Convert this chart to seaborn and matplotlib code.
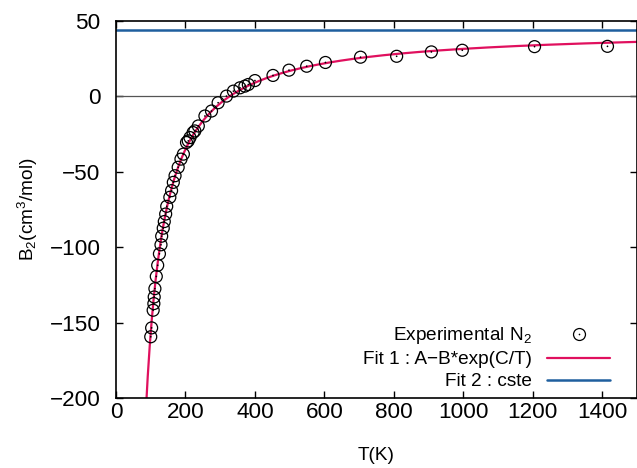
import numpy as np
import pandas as pd
import matplotlib
matplotlib.use("Agg")
import matplotlib.pyplot as plt
import seaborn as sns
from matplotlib.lines import Line2D
from matplotlib.legend_handler import HandlerTuple

# ---- data ----
T_exp = [100, 102.6, 107, 109, 110, 112, 116, 120, 125, 129.5, 131.5, 136, 139,
         143, 146, 155, 160, 165, 170, 179, 187, 194, 203, 208, 213, 222, 227,
         237, 256, 275, 294, 318, 338, 357, 371, 381, 400, 452, 498, 549, 603,
         704, 808, 908, 997, 1205, 1415]
B_exp = [-159.4, -153.5, -141.8, -137.4, -133, -127.5, -119.4, -112, -104.4,
         -98.4, -92.7, -87.4, -83, -78, -72.9, -66.9, -62.5, -57, -52.6, -47,
         -41.6, -38.3, -30.6, -29.5, -27.3, -24, -22.9, -19.6, -13, -9.7, -4.2,
         0.2, 3.5, 5.7, 6.8, 7.9, 10.5, 13.9, 17.4, 20.0, 22.5, 26.0, 26.6,
         29.5, 30.6, 33.0, 33.2]

# fit 1 : A - B*exp(C/T)
A_fit, B_fit, C_fit = 200.0, 155.0, 83.3
# fit 2 : constant
cste = 44.3

x_ticks = [0, 200, 400, 600, 800, 1000, 1200, 1400]
y_ticks = [-200, -150, -100, -50, 0, 50]
labels = ["Experimental N$_2$", "Fit 1 : A\u2212B*exp(C/T)", "Fit 2 : cste"]

red = "#e0105e"
blue = "#1f5f9e"

sns.set_style("ticks")
plt.rcParams["font.family"] = ["Liberation Sans", "DejaVu Sans"]
plt.rcParams["mathtext.default"] = "regular"
for k in ["text.color", "axes.labelcolor", "xtick.color", "ytick.color",
          "axes.edgecolor"]:
    plt.rcParams[k] = "black"

fig = plt.figure(figsize=(6.37, 4.68), dpi=100)
ax = fig.add_axes([116 / 637, 1 - 398 / 468, 1 - 116 / 637, (398 - 21) / 468])

T_fit = np.linspace(80, 1500, 500)
fit_df = pd.DataFrame({"T": T_fit, "B": A_fit - B_fit * np.exp(C_fit / T_fit)})
cst_df = pd.DataFrame({"T": [0, 1500], "B": [cste, cste]})
exp_df = pd.DataFrame({"T": T_exp, "B": B_exp})

ax.axhline(0, color="#555555", lw=0.9, zorder=1)
sns.lineplot(data=fit_df, x="T", y="B", color=red, lw=1.6, ax=ax, zorder=2)
sns.lineplot(data=cst_df, x="T", y="B", color=blue, lw=1.8, ax=ax, zorder=2)
sns.scatterplot(data=exp_df, x="T", y="B", marker="o", s=74, facecolor="none",
                edgecolor="black", linewidth=0.9, ax=ax, zorder=3)
sns.scatterplot(data=exp_df, x="T", y="B", marker="o", s=1.5, color="black",
                edgecolor="none", linewidth=0, ax=ax, zorder=3)

ax.set_xlim(0, 1500)
ax.set_ylim(-200, 50)
ax.set_xticks(x_ticks)
ax.set_yticks(y_ticks)
ax.tick_params(direction="in", top=True, right=True, length=5, width=1,
               labelsize=16.2, color="black", labelcolor="black")
ax.tick_params(axis="x", pad=3)
ax.tick_params(axis="y", pad=11)
for s in ax.spines.values():
    s.set_linewidth(1.2)
    s.set_color("black")

ax.set_xlabel("T(K)", fontsize=13.7, labelpad=17, color="black")
ax.set_ylabel("B$_2$(cm$^3$/mol)", fontsize=13.7, labelpad=7, color="black")

h_circ = Line2D([], [], marker="o", ls="none", mfc="none", mec="black",
                mew=0.9, ms=8.6)
h_dot = Line2D([], [], marker="o", ls="none", mfc="black", mec="none", ms=1.2)
h_red = Line2D([], [], color=red, lw=1.6)
h_blue = Line2D([], [], color=blue, lw=1.8)
leg = ax.legend([(h_circ, h_dot), h_red, h_blue], labels, loc="lower right",
                bbox_to_anchor=(0.948, 0.02), frameon=False, markerfirst=False,
                handlelength=3.3, handletextpad=0.8, labelspacing=0.25,
                fontsize=13.7, borderpad=0, borderaxespad=0,
                handler_map={tuple: HandlerTuple(ndivide=1)})
for t in leg.get_texts():
    t.set_color("black")

fig.savefig("out.png", dpi=100)
